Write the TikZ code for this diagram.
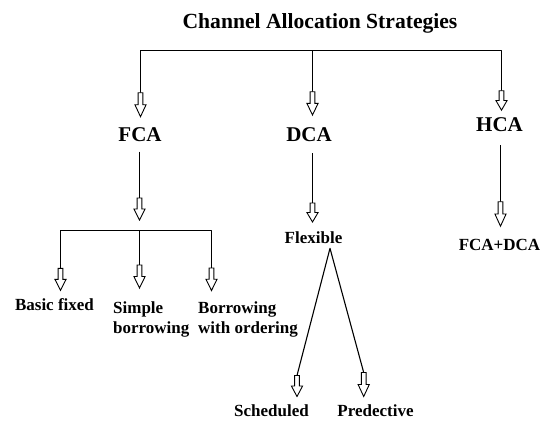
\documentclass[tikz,border=0pt]{standalone}
\usepackage{fontspec}
\setmainfont{Liberation Serif}
\begin{document}
\begin{tikzpicture}[x=1pt,y=-1pt,
  line/.style={line width=1.1pt, line join=round},
  arrowbody/.style={line width=0.9pt, fill=white},
  big/.style={font=\fontsize{21}{25}\selectfont\bfseries, inner sep=0pt, anchor=base},
  small/.style={font=\fontsize{17}{20}\selectfont\bfseries, inner sep=0pt},
  pics/harrow/.style={code={\draw[arrowbody] (-2.4,0) -- (-2.4,0.5*#1) -- (-5.6,0.5*#1) -- (0,#1) -- (5.6,0.5*#1) -- (2.4,0.5*#1) -- (2.4,0) -- cycle;}}
]
\useasboundingbox (0,0) rectangle (547,421);

% texts
\node[big, font=\fontsize{21.6}{25}\selectfont\bfseries] (title) at (320,28.3) {Channel Allocation Strategies};
\node[big] (fca) at (140,141.7) {FCA};
\node[big] (dca) at (309,141.7) {DCA};
\node[big] (hca) at (499.5,131.7) {HCA};
\node[small, anchor=base] (flex) at (313.5,243.3) {Flexible};
\node[small, anchor=base] (fcadca) at (499.5,250) {FCA+DCA};
\node[small, anchor=base] (basic) at (54.5,310.7) {Basic fixed};
\node[small, anchor=north west, align=left] (simple) at (113,301.3) {Simple\\borrowing};
\node[small, anchor=north west, align=left] (borrow) at (198,301) {Borrowing\\with ordering};
\node[small, anchor=base] (sched) at (271.5,416.5) {Scheduled};
\node[small, anchor=base] (pred) at (375.5,416) {Predective};

% top level
\coordinate (b1) at (140.5,50.5);
\coordinate (b2) at (312.5,50.5);
\coordinate (b3) at (501.5,50.5);
\coordinate (t1) at (140.5,92.7);
\coordinate (t2) at (312.5,91.7);
\coordinate (t3) at (501.5,90.7);
\draw[line] (t1) -- (b1) -- (b3) -- (t3);
\draw[line] (b2) -- (t2);
\pic at (t1) {harrow=24};
\pic at (t2) {harrow=23.3};
\pic at (t3) {harrow=19.5};

% FCA branch
\coordinate (f0) at (139.5,151.7);
\coordinate (f1) at (139.5,198);
\draw[line] (f0) -- (f1);
\pic at (f1) {harrow=22};
\coordinate (g1) at (60.5,230.5);
\coordinate (g2) at (139.5,230.5);
\coordinate (g3) at (211.5,230.5);
\coordinate (h1) at (60.5,268.3);
\coordinate (h2) at (139.5,265);
\coordinate (h3) at (211.5,268);
\draw[line] (h1) -- (g1) -- (g3) -- (h3);
\draw[line] (g2) -- (h2);
\pic at (h1) {harrow=22};
\pic at (h2) {harrow=23};
\pic at (h3) {harrow=22.5};

% DCA branch
\coordinate (d0) at (312.5,153);
\coordinate (d1) at (312.5,203);
\draw[line] (d0) -- (d1);
\pic at (d1) {harrow=19};
\coordinate (x0) at (330,248.3);
\coordinate (s1) at (297,375.5);
\coordinate (p1) at (363.7,372.5);
\draw[line] (s1) -- (x0) -- (p1);
\pic at (s1) {harrow=21};
\pic at (p1) {harrow=24};

% HCA branch
\coordinate (k0) at (500.5,145);
\coordinate (k1) at (500.5,201.7);
\draw[line] (k0) -- (k1);
\pic at (k1) {harrow=24.5};
\end{tikzpicture}
\end{document}
